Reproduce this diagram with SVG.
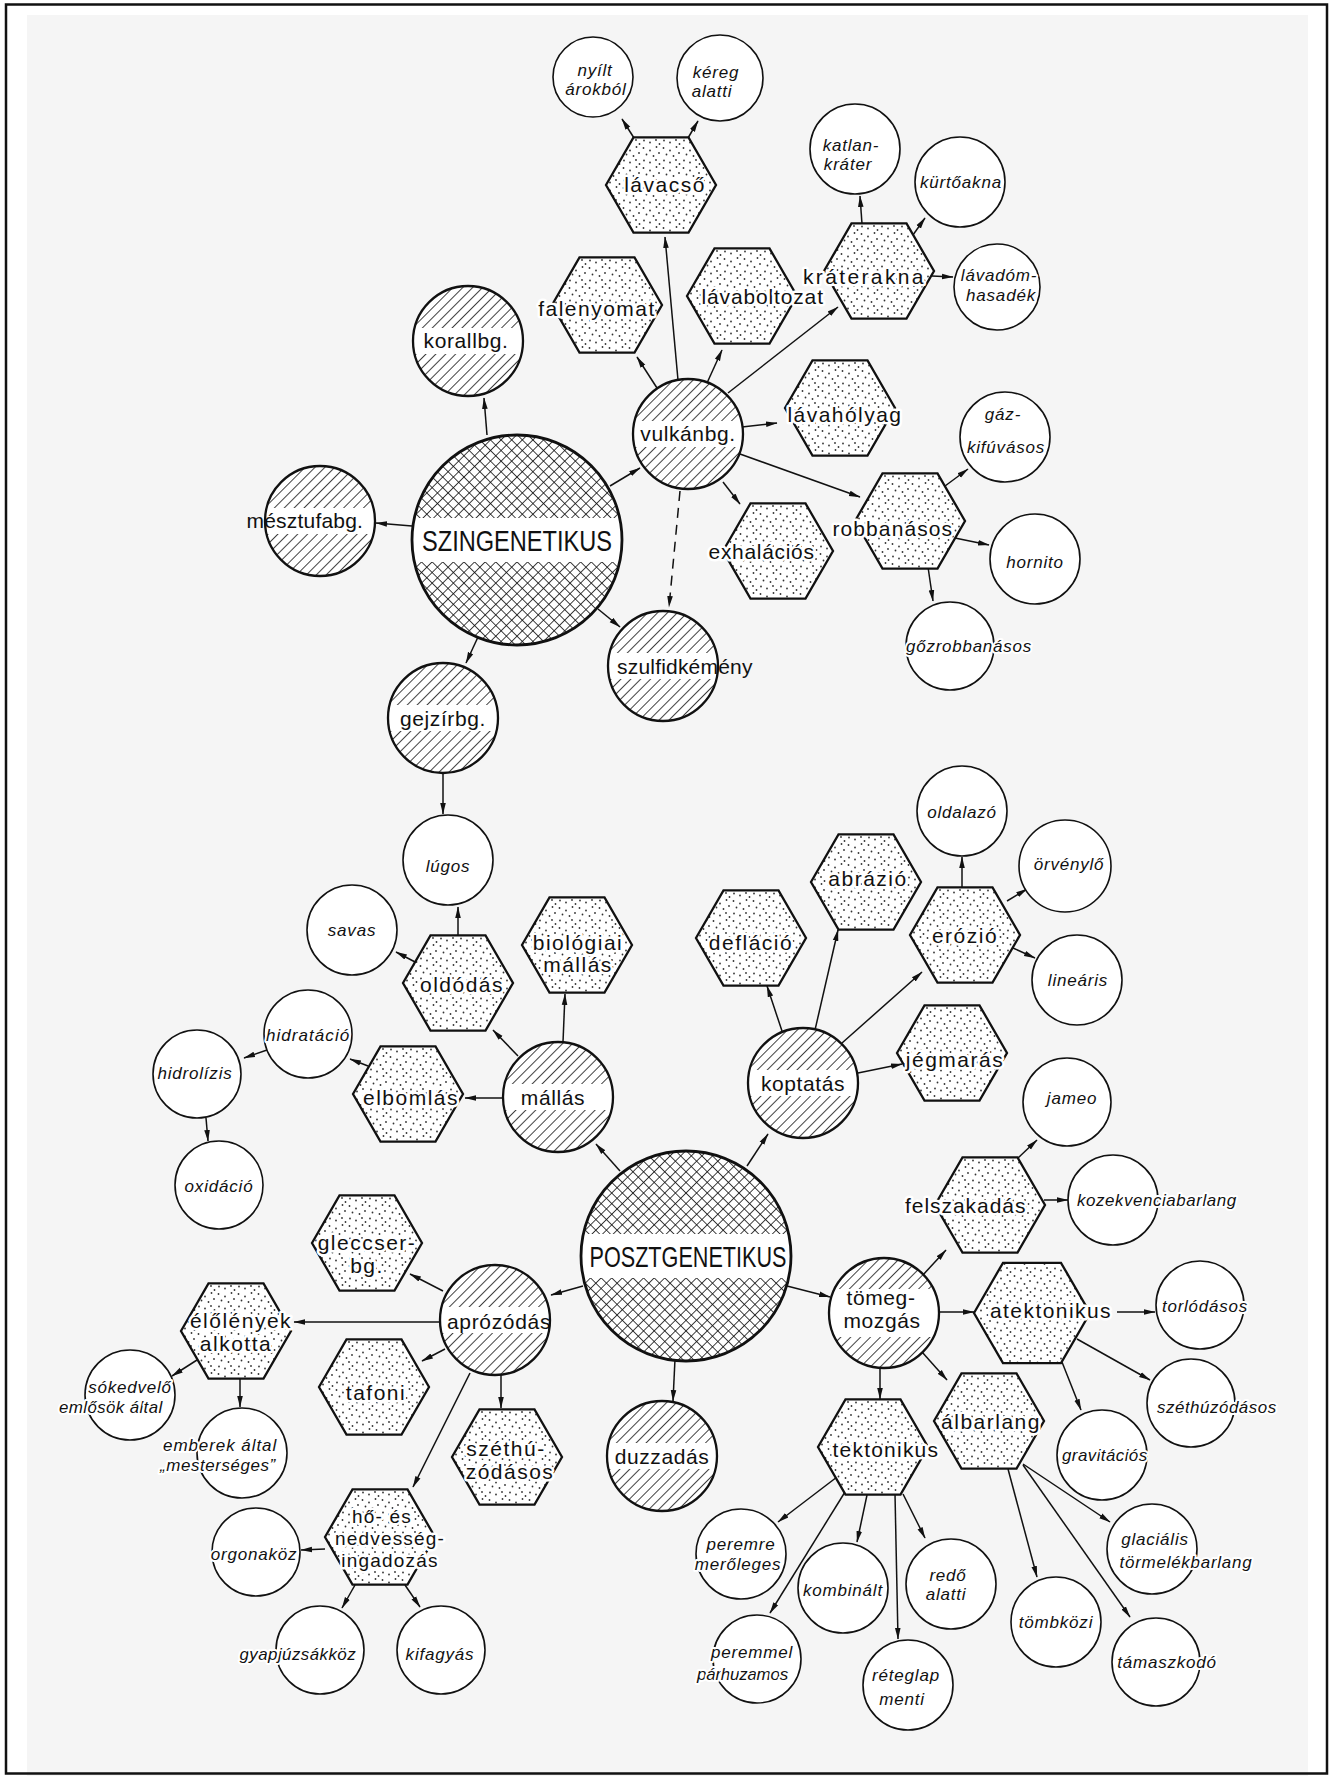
<svg xmlns="http://www.w3.org/2000/svg" xmlns:xlink="http://www.w3.org/1999/xlink" width="1334" height="1776" viewBox="0 0 1334 1776">
<style>
.t{font-family:"Liberation Sans",Arial,sans-serif;font-size:21px;letter-spacing:1.5px;text-anchor:middle;fill:#111;stroke:#fff;stroke-width:5px;stroke-linejoin:round;paint-order:stroke}
.s{font-size:19px;letter-spacing:1.2px}
.h{font-family:"Liberation Sans",Arial,sans-serif;font-size:21px;letter-spacing:0.6px;text-anchor:middle;fill:#111}
.b{font-family:"Liberation Sans",Arial,sans-serif;font-size:29px;text-anchor:middle;fill:#111}
.i{font-family:"Liberation Sans",Arial,sans-serif;font-style:italic;font-size:17px;letter-spacing:0.8px;text-anchor:middle;fill:#111;stroke:#fff;stroke-width:4px;stroke-linejoin:round;paint-order:stroke}
.lk{fill:#fff;stroke:#111;stroke-width:1.6}
.c line{stroke:#111;stroke-width:1.5;fill:none;marker-end:url(#ah)}
.c .d{stroke-dasharray:10 7}
</style>
<defs>
<pattern id="dots" width="20" height="20" patternUnits="userSpaceOnUse">
<rect width="20" height="20" fill="#fff"/>
<g fill="#333">
<circle cx="2.5" cy="3" r="0.9"/><circle cx="9" cy="5.5" r="0.9"/><circle cx="15.5" cy="2" r="0.9"/><circle cx="5.5" cy="9.5" r="0.9"/><circle cx="12.5" cy="11" r="0.9"/><circle cx="18" cy="8" r="0.9"/><circle cx="3" cy="15.5" r="0.9"/><circle cx="9" cy="17.5" r="0.9"/><circle cx="15" cy="15" r="0.9"/><circle cx="18.5" cy="19" r="0.9"/>
</g>
</pattern>
<pattern id="hatch" width="7" height="7" patternUnits="userSpaceOnUse" patternTransform="rotate(45)">
<line x1="0" y1="0" x2="0" y2="7" stroke="#111" stroke-width="1.6"/>
</pattern>
<pattern id="xhatch" width="7.5" height="7.5" patternUnits="userSpaceOnUse" patternTransform="rotate(45)">
<line x1="0" y1="0" x2="0" y2="7.5" stroke="#111" stroke-width="1.6"/>
<line x1="0" y1="0" x2="7.5" y2="0" stroke="#111" stroke-width="1.6"/>
</pattern>
<marker id="ah" viewBox="0 0 12 8" refX="11" refY="4" markerWidth="12" markerHeight="8" markerUnits="userSpaceOnUse" orient="auto">
<path d="M0,1.2 L11.5,4 L0,6.8 Z" fill="#111"/>
</marker>
<polygon id="hex" points="-55,0 -27.5,-47.6 27.5,-47.6 55,0 27.5,47.6 -27.5,47.6" fill="url(#dots)" stroke="#111" stroke-width="2.3"/>
<polygon id="hexL" points="-58,0 -29,-50.2 29,-50.2 58,0 29,50.2 -29,50.2" fill="url(#dots)" stroke="#111" stroke-width="2.3"/>
<g id="hc">
<circle r="55" fill="#fff"/>
<path d="M-53.44,-13 A55,55 0 0 1 53.44,-13 Z M53.44,13 A55,55 0 0 1 -53.44,13 Z" fill="url(#hatch)"/>
<circle r="55" fill="none" stroke="#111" stroke-width="2.3"/>
</g>
<g id="hc2">
<circle r="55" fill="#fff"/>
<path d="M-49.49,-24 A55,55 0 0 1 49.49,-24 Z M49.49,24 A55,55 0 0 1 -49.49,24 Z" fill="url(#hatch)"/>
<circle r="55" fill="none" stroke="#111" stroke-width="2.3"/>
</g>
<g id="big">
<circle r="105" fill="#fff"/>
<path d="M-102.67,-22 A105,105 0 0 1 102.67,-22 Z M102.67,22 A105,105 0 0 1 -102.67,22 Z" fill="url(#xhatch)"/>
<circle r="105" fill="none" stroke="#111" stroke-width="2.8"/>
</g>
</defs>

<rect width="1334" height="1776" fill="#fff"/>
<rect x="27" y="15" width="1281" height="1761" fill="#f5f5f5"/>
<rect x="6" y="4.5" width="1321" height="1769" fill="none" stroke="#111" stroke-width="2.5"/>

<g id="connectors" class="c">
<line x1="634" y1="138" x2="622" y2="119"/>
<line x1="688" y1="138" x2="698" y2="121"/>
<line x1="678" y1="380" x2="665" y2="237"/>
<line x1="657" y1="388" x2="637" y2="357"/>
<line x1="707" y1="383" x2="722" y2="350"/>
<line x1="728" y1="393" x2="838" y2="307"/>
<line x1="742" y1="427" x2="777" y2="423"/>
<line x1="723" y1="482" x2="740" y2="504"/>
<line x1="740" y1="454" x2="860" y2="497"/>
<line class="d" x1="680" y1="491" x2="669" y2="607"/>
<line x1="610" y1="486" x2="640" y2="468"/>
<line x1="487" y1="435" x2="484" y2="398"/>
<line x1="412" y1="526" x2="376" y2="523"/>
<line x1="478" y1="637" x2="466" y2="663"/>
<line x1="598" y1="609" x2="620" y2="627"/>
<line x1="862" y1="224" x2="860" y2="196"/>
<line x1="908" y1="242" x2="925" y2="218"/>
<line x1="932" y1="276" x2="953" y2="277"/>
<line x1="945" y1="486" x2="968" y2="469"/>
<line x1="955" y1="538" x2="989" y2="545"/>
<line x1="928" y1="567" x2="933" y2="601"/>
<line x1="443" y1="774" x2="443" y2="814"/>
<line x1="458" y1="936" x2="458" y2="907"/>
<line x1="417" y1="963" x2="396" y2="952"/>
<line x1="518" y1="1056" x2="493" y2="1030"/>
<line x1="563" y1="1042" x2="565" y2="994"/>
<line x1="503" y1="1098" x2="465" y2="1098"/>
<line x1="368" y1="1066" x2="350" y2="1059"/>
<line x1="267" y1="1050" x2="244" y2="1058"/>
<line x1="206" y1="1118" x2="208" y2="1141"/>
<line x1="620" y1="1171" x2="596" y2="1144"/>
<line x1="747" y1="1166" x2="768" y2="1134"/>
<line x1="583" y1="1286" x2="551" y2="1295"/>
<line x1="787" y1="1286" x2="830" y2="1297"/>
<line x1="675" y1="1359" x2="673" y2="1401"/>
<line x1="782" y1="1031" x2="767" y2="986"/>
<line x1="815" y1="1030" x2="838" y2="930"/>
<line x1="842" y1="1043" x2="922" y2="972"/>
<line x1="858" y1="1073" x2="902" y2="1064"/>
<line x1="962" y1="888" x2="962" y2="857"/>
<line x1="1007" y1="901" x2="1027" y2="889"/>
<line x1="1013" y1="948" x2="1035" y2="958"/>
<line x1="1018" y1="1158" x2="1037" y2="1140"/>
<line x1="1044" y1="1200" x2="1068" y2="1200"/>
<line x1="922" y1="1276" x2="946" y2="1250"/>
<line x1="940" y1="1312" x2="974" y2="1312"/>
<line x1="922" y1="1352" x2="947" y2="1380"/>
<line x1="880" y1="1369" x2="880" y2="1399"/>
<line x1="1117" y1="1312" x2="1155" y2="1312"/>
<line x1="1077" y1="1339" x2="1150" y2="1380"/>
<line x1="1060" y1="1357" x2="1081" y2="1410"/>
<line x1="1023" y1="1464" x2="1110" y2="1522"/>
<line x1="1008" y1="1469" x2="1037" y2="1577"/>
<line x1="1023" y1="1465" x2="1130" y2="1617"/>
<line x1="903" y1="1494" x2="925" y2="1538"/>
<line x1="895" y1="1494" x2="898" y2="1639"/>
<line x1="837" y1="1477" x2="778" y2="1522"/>
<line x1="845" y1="1492" x2="770" y2="1613"/>
<line x1="867" y1="1495" x2="857" y2="1542"/>
<line x1="440" y1="1322" x2="294" y2="1322"/>
<line x1="443" y1="1291" x2="410" y2="1274"/>
<line x1="445" y1="1349" x2="422" y2="1361"/>
<line x1="470" y1="1373" x2="413" y2="1487"/>
<line x1="501" y1="1375" x2="501" y2="1408"/>
<line x1="197" y1="1360" x2="172" y2="1376"/>
<line x1="240" y1="1378" x2="240" y2="1407"/>
<line x1="325" y1="1549" x2="301" y2="1550"/>
<line x1="355" y1="1585" x2="342" y2="1608"/>
<line x1="405" y1="1585" x2="420" y2="1607"/>
</g>

<!-- big nodes -->
<g id="szingenetikus"><use href="#big" x="517" y="540"/><text class="b" x="517" y="551" textLength="190" lengthAdjust="spacingAndGlyphs">SZINGENETIKUS</text></g>
<g id="posztgenetikus"><use href="#big" x="686" y="1256"/><text class="b" x="688" y="1267" textLength="197" lengthAdjust="spacingAndGlyphs">POSZTGENETIKUS</text></g>

<!-- hatched circles -->
<g id="korallbg"><use href="#hc" x="468" y="341"/><text class="h" x="466" y="348">korallbg.</text></g>
<g id="vulkanbg"><use href="#hc" x="688" y="434"/><text class="h" x="688" y="441">vulkánbg.</text></g>
<g id="mesztufabg"><use href="#hc" x="320" y="521"/><text class="h" x="305" y="528" textLength="117">mésztufabg.</text></g>
<g id="gejzirbg"><use href="#hc" x="443" y="718"/><text class="h" x="443" y="726">gejzírbg.</text></g>
<g id="szulfidkemeny"><use href="#hc" x="663" y="666"/><text class="h" x="685" y="674" textLength="136">szulfidkémény</text></g>
<g id="mallas"><use href="#hc" x="558" y="1097"/><text class="h" x="553" y="1105">mállás</text></g>
<g id="koptatas"><use href="#hc" x="803" y="1083"/><text class="h" x="803" y="1091">koptatás</text></g>
<g id="aprozodas"><use href="#hc" x="495" y="1320"/><text class="h" x="499" y="1329" textLength="104">aprózódás</text></g>
<g id="duzzadas"><use href="#hc" x="662" y="1456"/><text class="h" x="662" y="1464">duzzadás</text></g>
<g id="tomegmozgas"><use href="#hc2" x="884" y="1313"/><text class="h" x="881" y="1305">tömeg-</text><text class="h" x="882" y="1328">mozgás</text></g>

<!-- hexagons -->
<g id="lavacso"><use href="#hex" x="661" y="185"/><text class="t" x="665" y="192">lávacső</text></g>
<g id="falenyomat"><use href="#hex" x="607" y="305"/><text class="t" x="597" y="316">falenyomat</text></g>
<g id="lavaboltozat"><use href="#hex" x="742" y="296"/><text class="t" x="763" y="304" textLength="123">lávaboltozat</text></g>
<g id="kraterakna"><use href="#hex" x="879" y="271"/><text class="t" x="864" y="284" textLength="122">kráterakna</text></g>
<g id="lavaholyag"><use href="#hex" x="840" y="408"/><text class="t" x="845" y="422" textLength="115">lávahólyag</text></g>
<g id="exhalacios"><use href="#hex" x="778" y="551"/><text class="t" x="762" y="559" textLength="107">exhalációs</text></g>
<g id="robbanasos"><use href="#hex" x="910" y="521"/><text class="t" x="893" y="536" textLength="121">robbanásos</text></g>
<g id="oldodas"><use href="#hex" x="458" y="983"/><text class="t" x="462" y="992">oldódás</text></g>
<g id="biologiai"><use href="#hex" x="577" y="945"/><text class="t" x="578" y="950">biológiai</text><text class="t" x="578" y="972">mállás</text></g>
<g id="elbomlas"><use href="#hex" x="408" y="1094"/><text class="t" x="411" y="1105">elbomlás</text></g>
<g id="deflacio"><use href="#hex" x="751" y="938"/><text class="t" x="751" y="950">defláció</text></g>
<g id="abrazio"><use href="#hex" x="866" y="882"/><text class="t" x="868" y="886">abrázió</text></g>
<g id="erozio"><use href="#hex" x="965" y="935"/><text class="t" x="965" y="943">erózió</text></g>
<g id="jegmaras"><use href="#hex" x="952" y="1053"/><text class="t" x="955" y="1067">jégmarás</text></g>
<g id="felszakadas"><use href="#hex" x="990" y="1205"/><text class="t" x="966" y="1213" textLength="122">felszakadás</text></g>
<g id="atektonikus"><use href="#hexL" x="1032" y="1313"/><text class="t" x="1051" y="1318" textLength="122">atektonikus</text></g>
<g id="albarlang"><use href="#hex" x="989" y="1421"/><text class="t" x="991" y="1429">álbarlang</text></g>
<g id="tektonikus"><use href="#hex" x="873" y="1447"/><text class="t" x="886" y="1457" textLength="107">tektonikus</text></g>
<g id="gleccser"><use href="#hex" x="367" y="1243"/><text class="t" x="367" y="1250">gleccser-</text><text class="t" x="367" y="1273">bg.</text></g>
<g id="elolenyek"><use href="#hex" x="236" y="1331"/><text class="t" x="241" y="1328">élőlények</text><text class="t" x="236" y="1351">alkotta</text></g>
<g id="tafoni"><use href="#hex" x="374" y="1387"/><text class="t" x="376" y="1400">tafoni</text></g>
<g id="szethuzodasos-hex"><use href="#hex" x="507" y="1457"/><text class="t" x="506" y="1456">széthú-</text><text class="t" x="510" y="1479">zódásos</text></g>
<g id="ho-es-nedvesseg"><use href="#hex" x="380" y="1537"/><text class="t s" x="382" y="1523">hő- és</text><text class="t s" x="390" y="1545">nedvesség-</text><text class="t s" x="390" y="1567">ingadozás</text></g>

<!-- leaf circles -->
<g id="nyilt"><circle class="lk" cx="593" cy="77" r="40"/><text class="i" x="595" y="76">nyílt</text><text class="i" x="596" y="95">árokból</text></g>
<g id="kereg"><circle class="lk" cx="720" cy="78" r="43"/><text class="i" x="716" y="78">kéreg</text><text class="i" x="712" y="97">alatti</text></g>
<g id="katlan"><circle class="lk" cx="855" cy="149" r="45"/><text class="i" x="851" y="151">katlan-</text><text class="i" x="848" y="170">kráter</text></g>
<g id="kurtoakna"><circle class="lk" cx="960" cy="182" r="45"/><text class="i" x="961" y="188">kürtőakna</text></g>
<g id="lavadom"><circle class="lk" cx="997" cy="287" r="43"/><text class="i" x="999" y="281">lávadóm-</text><text class="i" x="1001" y="301">hasadék</text></g>
<g id="gaz"><circle class="lk" cx="1005" cy="437" r="45"/><text class="i" x="1003" y="420">gáz-</text><text class="i" x="1006" y="453">kifúvásos</text></g>
<g id="hornito"><circle class="lk" cx="1035" cy="559" r="45"/><text class="i" x="1035" y="568">hornito</text></g>
<g id="gozrobbanasos"><circle class="lk" cx="950" cy="646" r="44"/><text class="i" x="969" y="652" textLength="126">gőzrobbanásos</text></g>
<g id="lugos"><circle class="lk" cx="448" cy="860" r="45"/><text class="i" x="448" y="872">lúgos</text></g>
<g id="savas"><circle class="lk" cx="352" cy="930" r="45"/><text class="i" x="352" y="936">savas</text></g>
<g id="hidratacio"><circle class="lk" cx="308" cy="1034" r="44"/><text class="i" x="308" y="1041" textLength="84">hidratáció</text></g>
<g id="hidrolizis"><circle class="lk" cx="197" cy="1074" r="44"/><text class="i" x="195" y="1079">hidrolízis</text></g>
<g id="oxidacio"><circle class="lk" cx="219" cy="1185" r="44"/><text class="i" x="219" y="1192">oxidáció</text></g>
<g id="oldalazo"><circle class="lk" cx="962" cy="811" r="45"/><text class="i" x="962" y="818">oldalazó</text></g>
<g id="orvenylo"><circle class="lk" cx="1065" cy="866" r="46"/><text class="i" x="1069" y="870">örvénylő</text></g>
<g id="linearis"><circle class="lk" cx="1077" cy="980" r="45"/><text class="i" x="1078" y="986">lineáris</text></g>
<g id="jameo"><circle class="lk" cx="1067" cy="1102" r="44"/><text class="i" x="1072" y="1104">jameo</text></g>
<g id="kozekvencia"><circle class="lk" cx="1113" cy="1200" r="45"/><text class="i" x="1157" y="1206" textLength="160">kozekvenciabarlang</text></g>
<g id="torlodasos"><circle class="lk" cx="1200" cy="1305" r="44"/><text class="i" x="1205" y="1312" textLength="86">torlódásos</text></g>
<g id="szethuzodasos"><circle class="lk" cx="1191" cy="1403" r="44"/><text class="i" x="1217" y="1413" textLength="120">széthúzódásos</text></g>
<g id="gravitacios"><circle class="lk" cx="1102" cy="1455" r="45"/><text class="i" x="1105" y="1461" textLength="86">gravitációs</text></g>
<g id="glacialis"><circle class="lk" cx="1152" cy="1549" r="45"/><text class="i" x="1155" y="1545">glaciális</text><text class="i" x="1186" y="1568" textLength="133">törmelékbarlang</text></g>
<g id="tombkozi"><circle class="lk" cx="1056" cy="1622" r="45"/><text class="i" x="1056" y="1628">tömbközi</text></g>
<g id="tamaszkodo"><circle class="lk" cx="1156" cy="1662" r="44"/><text class="i" x="1167" y="1668">támaszkodó</text></g>
<g id="redo"><circle class="lk" cx="951" cy="1584" r="45"/><text class="i" x="948" y="1581">redő</text><text class="i" x="946" y="1600">alatti</text></g>
<g id="reteglap"><circle class="lk" cx="908" cy="1685" r="45"/><text class="i" x="906" y="1681">réteglap</text><text class="i" x="902" y="1705">menti</text></g>
<g id="peremre"><circle class="lk" cx="741" cy="1554" r="45"/><text class="i" x="741" y="1550">peremre</text><text class="i" x="738" y="1570">merőleges</text></g>
<g id="kombinalt"><circle class="lk" cx="843" cy="1588" r="45"/><text class="i" x="843" y="1596">kombinált</text></g>
<g id="peremmel"><circle class="lk" cx="757" cy="1659" r="44"/><text class="i" x="752" y="1658">peremmel</text><text class="i" x="743" y="1680" textLength="92">párhuzamos</text></g>
<g id="sokedvelo"><circle class="lk" cx="130" cy="1395" r="45"/><text class="i" x="130" y="1393">sókedvelő</text><text class="i" x="111" y="1413" textLength="104">emlősök által</text></g>
<g id="emberek"><circle class="lk" cx="242" cy="1453" r="45"/><text class="i" x="220" y="1451" textLength="114">emberek által</text><text class="i" x="218" y="1471" textLength="116">„mesterséges”</text></g>
<g id="orgonakoz"><circle class="lk" cx="256" cy="1552" r="44"/><text class="i" x="254" y="1560">orgonaköz</text></g>
<g id="gyapjuzsakkoz"><circle class="lk" cx="320" cy="1650" r="44"/><text class="i" x="298" y="1660" textLength="117">gyapjúzsákköz</text></g>
<g id="kifagyas"><circle class="lk" cx="441" cy="1650" r="44"/><text class="i" x="440" y="1660">kifagyás</text></g>
</svg>
